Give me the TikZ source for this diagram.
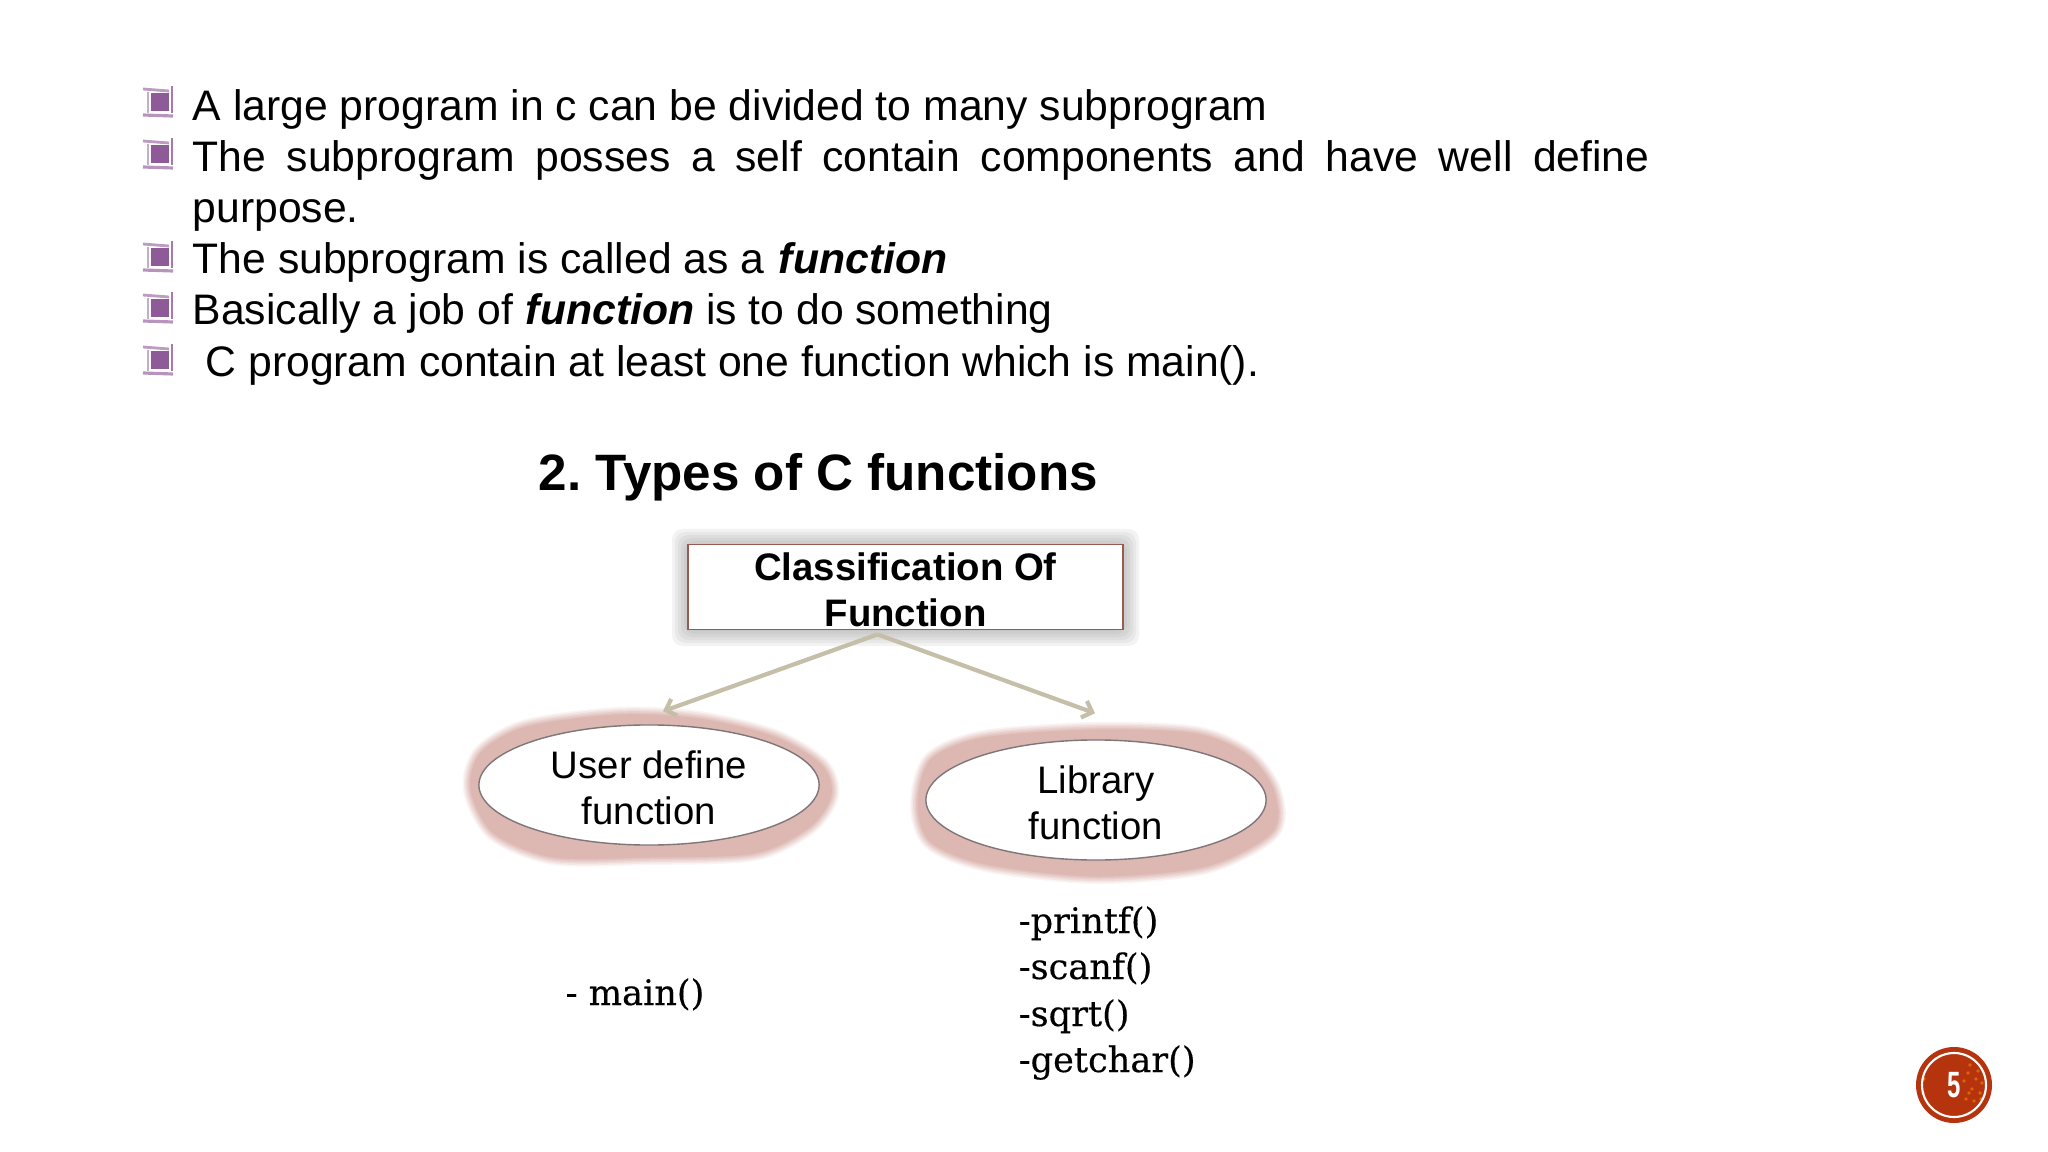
\documentclass[tikz,border=0pt]{standalone}
\usepackage{fontspec}
\setmainfont{Liberation Sans}
\newfontfamily\listfont[FakeBold=0.3]{DejaVu Serif}
\usetikzlibrary{arrows.meta}
\usetikzlibrary{calc}
\usetikzlibrary{shapes.geometric}

\definecolor{bulletpurple}{HTML}{8F5A98}
\definecolor{connectortan}{HTML}{C5BEA8}
\definecolor{boxedge}{HTML}{9A5A50}
\definecolor{glowpink}{HTML}{DDB8B2}
\definecolor{ovaledge}{HTML}{7F7678}
\definecolor{badgered}{HTML}{B5340E}

\tikzset{
    x=0.01cm, y=-0.01cm,
    bodyline/.style={anchor=base west, inner sep=0pt, font=\fontsize{12.14}{14.6}\selectfont},
    listline/.style={anchor=base west, inner sep=0pt, font=\fontsize{10}{13}\listfont},
    classbox/.style={draw=boxedge, line width=0.5pt, fill=white, minimum width=4.35cm, minimum height=0.85cm,
        inner sep=0pt, align=center, font=\fontsize{10.9}{13}\selectfont\bfseries},
    oval/.style={ellipse, draw=ovaledge, line width=0.4pt, fill=white, minimum width=3.40cm, minimum height=1.20cm,
        inner sep=0pt, align=center, font=\fontsize{10.9}{13}\selectfont},
    connector/.style={draw=connectortan, line width=1.2pt, -{Straight Barb[length=2.5pt,width=5pt]}},
    pics/bulletmark/.style={code={
        \fill[bulletpurple] (8,-9) rectangle (26,9);
        \draw[bulletpurple!60, line width=0.8pt] (0,-13) -- (26,-11);
        \draw[bulletpurple!50, line width=0.8pt] (5,-10) -- (5,11);
        \draw[bulletpurple!80, line width=0.7pt] (29,-16) -- (29,11);
        \draw[bulletpurple!65, line width=0.9pt] (0,13) -- (30,14);
    }},
}

% soft edge, painted from the pale rim inwards
\newcommand{\softglow}[2]{
    \foreach \w/\c in {16/16,13/32,10/50,7/68,4/84,1/100} {
        \draw[shift={(#1)}, draw=glowpink!\c, fill=glowpink!\c, line width=\w*0.2845pt, line join=round]
            plot[smooth cycle] coordinates {#2};
    }
}

\begin{document}
\frenchspacing
\begin{tikzpicture}
    \useasboundingbox (0,0) rectangle (2048,1152);
    \fill[white] (0,0) rectangle (2048,1152);

    % bullets
    \foreach \ypos in {102,154,257,308,360} {
        \pic at (143,\ypos) {bulletmark};
    }

    \node[bodyline] (lineone) at (192,121) {A large program in c can be divided to many subprogram};
    \node[bodyline] (linetwo) at (192,172) {\makebox[414.3pt][s]{The subprogram posses a self contain components and have well define}};
    \node[bodyline] (linetwob) at (192,223) {purpose.};
    \node[bodyline] (linethree) at (192,274) {The subprogram is called as a \hspace{0.7pt}\textbf{\textit{function}}};
    \node[bodyline] (linefour) at (192,325) {Basically a job of \hspace{0.3pt}\textbf{\textit{function}} is to do something};
    \node[bodyline] (linefive) at (205,377) {C program contain at least one function which is main().};

    \node[anchor=base west, inner sep=0pt, font=\fontsize{14.55}{17}\selectfont\bfseries] (title) at (538,491) {2. Types of C functions};

    % shadows
    \foreach \g in {16,13,10,7,4,1} {
        \fill[black!50, opacity=0.09, rounded corners=3pt] (688-\g,545-\g) rectangle (1123+\g,630+\g);
    }
    \softglow{649,785}{(-178,5) (-168,-32) (-122,-58) (-30,-70) (50,-66) (125,-48) (172,-20) (182,10) (160,42) (105,68) (0,72) (-95,72) (-155,48)}
    \softglow{1096,800}{(-178,5) (-165,-40) (-112,-62) (0,-70) (100,-66) (152,-44) (178,-8) (176,32) (110,66) (0,76) (-110,64) (-165,42)}

    \node[classbox] (classify) at (905.5,587) {\rule{0pt}{9.5pt}Classification Of\\Function};
    \node[oval] (userfn) at (649,785) {\rule{0pt}{9.5pt}User define\\function};
    \node[oval] (libfn) at (1096,800) {\rule{0pt}{9.5pt}Library\\function};

    \coordinate (fork) at ($(classify.south) + (-28,4)$);
    \draw[connector] (fork) to ($(userfn.north) + (14,-13)$);
    \draw[connector] (fork) to ($(libfn.north) + (-1,-26)$);

    \node[listline] (mainitem) at (565,1005) {- main()};
    \node[listline] (printfitem) at (1018,933) {-printf()};
    \node[listline] (scanfitem) at (1018,979) {-scanf()};
    \node[listline] (sqrtitem) at (1018,1026) {-sqrt()};
    \node[listline] (getcharitem) at (1018,1072) {-getchar()};

    % page badge
    \fill[badgered] (1954,1085) circle (38);
    \foreach \dx/\dy in {14/-12,22/-6,18/4,26/8,12/14,20/16,28/-2,16/-20,-30/-6,-31/8,10/-4,24/-14,15/8,27/14} {
        \fill[orange!60!badgered] (1954+\dx,1085+\dy) circle (1.8);
    }
    \draw[white, line width=0.6pt] (1954,1085) circle (32);
    \node[text=white, inner sep=0pt, font=\fontsize{8}{10}\selectfont\bfseries] (pagenum) at (1954,1085) {\scalebox{0.85}[1.3]{5}};
\end{tikzpicture}
\end{document}
